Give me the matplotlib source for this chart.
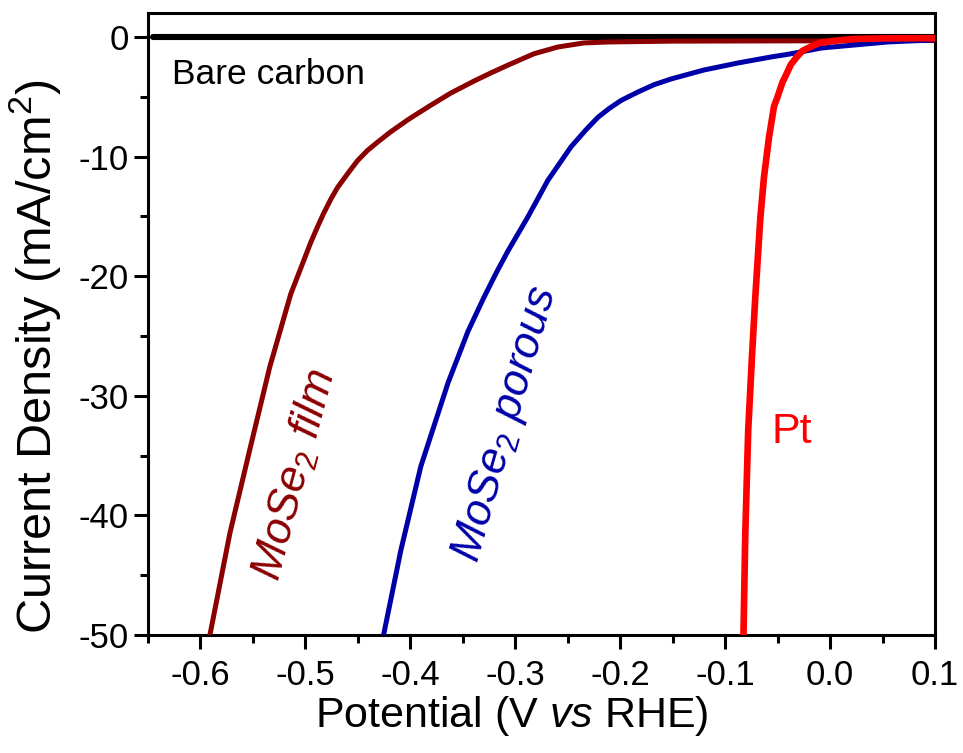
import numpy as np
import matplotlib
matplotlib.use("Agg")
import matplotlib.pyplot as plt
from matplotlib.ticker import MultipleLocator

plt.rcParams['font.family'] = ['Liberation Sans', 'DejaVu Sans']
plt.rcParams['mathtext.fontset'] = 'custom'
plt.rcParams['mathtext.rm'] = 'Liberation Sans'
plt.rcParams['mathtext.it'] = 'Liberation Sans:italic'
plt.rcParams['axes.unicode_minus'] = False

# bare carbon electrode, flat
carbon_v = [-0.645, -0.4, -0.2, 0.0, 0.1]
carbon_j = [0.0, 0.0, 0.0, 0.0, 0.0]

# MoSe2 film
film_v = [-0.591, -0.572, -0.553, -0.534, -0.514, -0.495, -0.4886, -0.4829,
          -0.476, -0.4695, -0.4599, -0.4504, -0.441, -0.4313, -0.419, -0.4026,
          -0.393, -0.3807, -0.362, -0.3396, -0.323, -0.3071, -0.282, -0.2594,
          -0.2345, -0.2116, -0.15, 0.1]
film_j = [-50.0, -41.5, -34.5, -27.6, -21.5, -17.2, -15.9, -14.8,
          -13.6, -12.6, -11.45, -10.35, -9.5, -8.8, -7.95, -6.94,
          -6.4, -5.72, -4.72, -3.7, -3.0, -2.36, -1.4, -0.84,
          -0.50, -0.42, -0.35, -0.3]

# MoSe2 porous
porous_v = [-0.4255, -0.409, -0.390, -0.364, -0.345, -0.330, -0.318, -0.307,
            -0.288, -0.269, -0.247, -0.233, -0.221, -0.210, -0.199, -0.183,
            -0.168, -0.151, -0.120, -0.0874, -0.056, -0.040, -0.008, 0.055, 0.097]
porous_j = [-50.0, -42.9, -35.9, -28.9, -24.6, -21.8, -19.7, -17.9,
            -15.05, -12.0, -9.2, -7.8, -6.7, -5.95, -5.3, -4.6,
            -4.0, -3.5, -2.76, -2.17, -1.67, -1.45, -0.92, -0.42, -0.25]

# Pt
pt_v = [-0.0825, -0.0808, -0.078, -0.0744, -0.0712, -0.0664, -0.063, -0.0582,
        -0.0534, -0.050, -0.0454, -0.0426, -0.0373, -0.031, -0.0263, -0.0168,
        -0.010, 0.006, 0.0224, 0.05, 0.1]
pt_j = [-50.0, -41.6, -32.9, -26.7, -21.7, -15.1, -11.75, -8.4,
        -5.8, -5.0, -3.8, -3.3, -2.3, -1.6, -1.16, -0.75,
        -0.5, -0.3, -0.17, -0.12, -0.1]

fig = plt.figure(figsize=(9.63, 7.53), dpi=100)
ax = fig.add_axes([0.1537, 0.1567, 0.8172, 0.826])

ax.plot(carbon_v, carbon_j, color='black', lw=4.4, solid_capstyle='round', zorder=2)
ax.plot(film_v, film_j, color='#8B0000', lw=3.6, zorder=3)
ax.plot(porous_v, porous_j, color='#0000A8', lw=3.6, zorder=3)
ax.plot(pt_v, pt_j, color='#FF0000', lw=4.8, zorder=4)

ax.text(-0.627, -3.1, 'Bare carbon', fontsize=25.5, color='black', va='center', ha='left')
ax.text(-0.5096, -36.6, r'MoSe$_2$ film', fontsize=32, color='#8B0000', style='italic',
        rotation=75, ha='center', va='center', rotation_mode='anchor')
ax.text(-0.3091, -32.4, r'MoSe$_2$ porous', fontsize=32, color='#0000A8', style='italic',
        rotation=74, ha='center', va='center', rotation_mode='anchor')
ax.text(-0.036, -33.0, 'Pt', fontsize=31, color='#FF0000', ha='center', va='center')

ax.set_xlim(-0.65, 0.1)
ax.set_ylim(-50, 2)
ax.xaxis.set_minor_locator(MultipleLocator(0.05))
ax.yaxis.set_minor_locator(MultipleLocator(5))
ax.set_xticks(np.arange(-0.6, 0.11, 0.1))
ax.set_xticklabels(['-0.6', '-0.5', '-0.4', '-0.3', '-0.2', '-0.1', '0.0', '0.1'])
ax.set_yticks([0, -10, -20, -30, -40, -50])
ax.set_yticklabels(['0', '-10', '-20', '-30', '-40', '-50'])

ax.tick_params(which='major', direction='out', length=10, width=2.2, labelsize=25)
ax.tick_params(axis='x', which='major', pad=7)
ax.tick_params(axis='y', which='major', pad=4)
ax.tick_params(which='minor', direction='out', length=6, width=2.2)
for s in ax.spines.values():
    s.set_linewidth(2.2)

fig.text(512 / 963, 1 - 716 / 753, r'Potential (V $\it{vs}$ RHE)', fontsize=31,
         ha='center', va='center')
fig.text(35 / 963, 1 - 357 / 753, r'Current Density (mA/cm$^2$)', fontsize=35,
         ha='center', va='center', rotation=90)

fig.savefig('out.png', dpi=100)
